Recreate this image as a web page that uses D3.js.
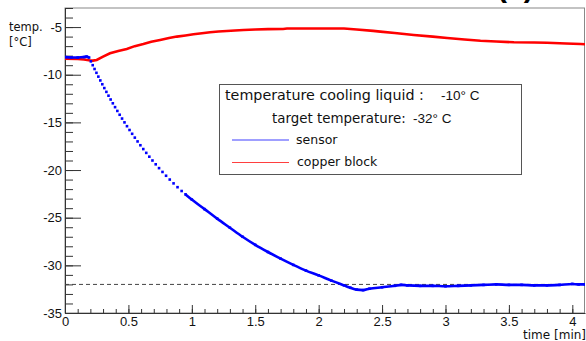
<!DOCTYPE html>
<html>
<head>
<meta charset="utf-8">
<script src="https://cdn.jsdelivr.net/npm/d3@7"></script>
<style>
  body { margin: 0; background: #fff; }
  svg { display: block; }
  .tick text { font-family: "Liberation Sans", Arial, sans-serif; font-size: 13px; fill: #111; }
  .axis path, .axis line { stroke: #333; }
  .lbl { font-family: "DejaVu Sans", sans-serif; fill: #111; }
  .num { font-family: "Liberation Sans", Arial, sans-serif; fill: #111; }
</style>
</head>
<body>
<div id="chart"></div>
<script>
// sensor (blue) - time in min, temperature in deg C
var sensorTime = [0, 0.05, 0.1, 0.15, 0.17, 0.19,
  0.2041, 0.2185, 0.2330, 0.2479, 0.2630, 0.2784, 0.2941, 0.3100, 0.3263, 0.3429,
  0.3598, 0.3771, 0.3947, 0.4127, 0.4310, 0.4498, 0.4690, 0.4887, 0.5088, 0.5294,
  0.5505, 0.5722, 0.5944, 0.6172, 0.6407, 0.6648, 0.6896, 0.7152, 0.7415, 0.7687,
  0.7968, 0.8259, 0.8560, 0.8872, 0.9196,
  0.95, 1.0, 1.1, 1.2, 1.3, 1.4, 1.5, 1.6, 1.7, 1.8, 1.9, 2.0, 2.1, 2.2, 2.25, 2.3,
  2.35, 2.4, 2.5, 2.6, 2.65, 2.7, 2.8, 2.9, 3.0, 3.1, 3.2, 3.3, 3.4, 3.5, 3.6, 3.7,
  3.8, 3.9, 4.0, 4.05, 4.1];
var sensorTemp = [-8.15, -8.2, -8.2, -8.15, -8.1, -8.2,
  -8.6, -9.0, -9.4, -9.8, -10.2, -10.6, -11.0, -11.4, -11.8, -12.2,
  -12.6, -13.0, -13.4, -13.8, -14.2, -14.6, -15.0, -15.4, -15.8, -16.2,
  -16.6, -17.0, -17.4, -17.8, -18.2, -18.6, -19.0, -19.4, -19.8, -20.2,
  -20.6, -21.0, -21.4, -21.8, -22.2,
  -22.55, -23.1, -24.1, -25.1, -26.05, -27.0, -27.85, -28.6, -29.3, -29.95, -30.55, -31.05, -31.6, -32.1, -32.35, -32.55,
  -32.6, -32.45, -32.3, -32.15, -32.05, -32.1, -32.15, -32.15, -32.2, -32.15, -32.1, -32.05, -32.0, -32.05, -32.05, -32.1,
  -32.1, -32.05, -31.95, -32.0, -32.0];

// copper block (red)
var copperTime = [0, 0.1, 0.15, 0.2, 0.22, 0.25, 0.3, 0.355, 0.42, 0.487, 0.55, 0.618, 0.68, 0.75, 0.82, 0.882,
  0.95, 1.013, 1.08, 1.144, 1.21, 1.276, 1.34, 1.408, 1.5, 1.6, 1.72, 1.75, 2.0, 2.2, 2.3, 2.43, 2.486,
  2.6, 2.75, 2.9, 3.013, 3.15, 3.276, 3.4, 3.54, 3.7, 3.8, 3.95, 4.065, 4.1];
var copperTemp = [-8.32, -8.35, -8.4, -8.5, -8.52, -8.45, -8.1, -7.75, -7.5, -7.3, -7.0, -6.78, -6.55, -6.36, -6.15, -6.0,
  -5.88, -5.76, -5.65, -5.55, -5.47, -5.41, -5.36, -5.31, -5.25, -5.22, -5.2, -5.15, -5.15, -5.15, -5.25, -5.4, -5.48,
  -5.62, -5.83, -6.0, -6.15, -6.3, -6.43, -6.52, -6.6, -6.62, -6.65, -6.72, -6.78, -6.8];

var targetTemp = -32;
var xTicks = [0, 0.5, 1, 1.5, 2, 2.5, 3, 3.5, 4];
var yTicks = [-35, -30, -25, -20, -15, -10, -5];

var W = 586, H = 341;
var svg = d3.select("#chart").append("svg").attr("width", W).attr("height", H);

var x = d3.scaleLinear().domain([0, 4.1]).range([65, 585]);
var y = d3.scaleLinear().domain([-35, -3]).range([313, 8]);

svg.append("defs").append("clipPath").attr("id", "clip")
  .append("rect").attr("x", 65).attr("y", 8).attr("width", 520).attr("height", 305);

// frame
svg.append("rect").attr("x", 65).attr("y", 8).attr("width", 519.5).attr("height", 305)
  .attr("fill", "none").attr("stroke", "#888").attr("stroke-width", 1);

// minor ticks
svg.append("g").attr("class", "axis").attr("transform", "translate(0,313)")
  .call(d3.axisBottom(x).tickValues(d3.range(0, 4.1, 0.1)).tickSize(-4).tickFormat(""))
  .call(function(g) { g.select(".domain").remove(); });
svg.append("g").attr("class", "axis").attr("transform", "translate(65,0)")
  .call(d3.axisLeft(y).tickValues(d3.range(-35, -2.5, 1)).tickSize(-8).tickFormat(""))
  .call(function(g) { g.select(".domain").remove(); });

// major ticks + labels (plain hyphen like the original)
svg.append("g").attr("class", "axis").attr("transform", "translate(0,313)")
  .call(d3.axisBottom(x).tickValues(xTicks).tickSizeInner(-8).tickSizeOuter(0).tickPadding(4)
    .tickFormat(function(d) { return String(d); }));
svg.append("g").attr("class", "axis").attr("transform", "translate(65,0)")
  .call(d3.axisLeft(y).tickValues(yTicks).tickSizeInner(-16).tickSizeOuter(0).tickPadding(3)
    .tickFormat(function(d) { return String(d); }));

// axis titles
svg.append("text").attr("class", "lbl").attr("x", 9).attr("y", 31).style("font-size", "11.5px").text("temp.");
svg.append("text").attr("class", "lbl").attr("x", 9).attr("y", 46).style("font-size", "11.5px").text("[°C]");
svg.append("text").attr("class", "lbl").attr("x", 586).attr("y", 339).attr("text-anchor", "end")
  .style("font-size", "12px").text("time [min]");

// title, mostly cut off at the top
svg.append("text").attr("x", 497).attr("y", -3).style("font-family", "Liberation Sans, Arial, sans-serif")
  .style("font-weight", "bold").style("font-size", "30px").text("(a)");

var plot = svg.append("g").attr("clip-path", "url(#clip)");

// target line
plot.append("line")
  .attr("x1", x(0)).attr("x2", x(4.1))
  .attr("y1", y(targetTemp)).attr("y2", y(targetTemp))
  .attr("stroke", "#444").attr("stroke-width", 1).attr("stroke-dasharray", "4,3");

// copper block
var line = d3.line().x(function(d) { return x(d[0]); }).y(function(d) { return y(d[1]); });
plot.append("path")
  .datum(copperTime.map(function(t, i) { return [t, copperTemp[i]]; }))
  .attr("d", line).attr("fill", "none").attr("stroke", "#ff0000").attr("stroke-width", 2.6);

// sensor: joined where samples are coarse or the curve is flat,
// separate points where the fast drop spreads them apart
var sensor = sensorTime.map(function(t, i) { return [t, sensorTemp[i]]; });
var segs = [], cur = [sensor[0]];
for (var i = 1; i < sensor.length; i++) {
  var dy = Math.abs(y(sensor[i][1]) - y(sensor[i - 1][1]));
  var dt = sensor[i][0] - sensor[i - 1][0];
  if (dy < 3 || dt > 0.04) cur.push(sensor[i]);
  else { segs.push(cur); cur = [sensor[i]]; }
}
segs.push(cur);
var smooth = d3.line().curve(d3.curveMonotoneX)
  .x(function(d) { return x(d[0]); }).y(function(d) { return y(d[1]); });
plot.selectAll(".seg").data(segs.filter(function(s) { return s.length > 1; }))
  .enter().append("path").attr("class", "seg")
  .attr("d", smooth).attr("fill", "none").attr("stroke", "#0000ff").attr("stroke-width", 2.6);
plot.selectAll(".pt").data(sensor).enter().append("rect").attr("class", "pt")
  .attr("x", function(d) { return x(d[0]) - 1.3; })
  .attr("y", function(d) { return y(d[1]) - 1.3; })
  .attr("width", 2.6).attr("height", 2.6).attr("fill", "#0000ff");

// legend
var lg = svg.append("g");
lg.append("rect").attr("x", 219.5).attr("y", 84.5).attr("width", 302).attr("height", 90)
  .attr("fill", "#fff").attr("stroke", "#555").attr("stroke-width", 1);
lg.append("text").attr("class", "lbl").attr("x", 225).attr("y", 100).style("font-size", "14.3px")
  .text("temperature cooling liquid :");
lg.append("text").attr("class", "num").attr("x", 441).attr("y", 100).style("font-size", "13.5px").text("-10° C");
lg.append("text").attr("class", "lbl").attr("x", 272).attr("y", 123).style("font-size", "13.4px")
  .text("target temperature:");
lg.append("text").attr("class", "num").attr("x", 413).attr("y", 123).style("font-size", "13.5px").text("-32° C");
lg.append("line").attr("x1", 232).attr("x2", 289).attr("y1", 140).attr("y2", 140)
  .attr("stroke", "#0000ff").attr("stroke-width", 1).attr("opacity", 0.75);
lg.append("text").attr("class", "lbl").attr("x", 296).attr("y", 144).style("font-size", "12.5px").text("sensor");
lg.append("line").attr("x1", 232).attr("x2", 289).attr("y1", 162.5).attr("y2", 162.5)
  .attr("stroke", "#ff0000").attr("stroke-width", 1).attr("opacity", 0.75);
lg.append("text").attr("class", "lbl").attr("x", 297).attr("y", 166).style("font-size", "12.5px").text("copper block");
</script>
</body>
</html>
